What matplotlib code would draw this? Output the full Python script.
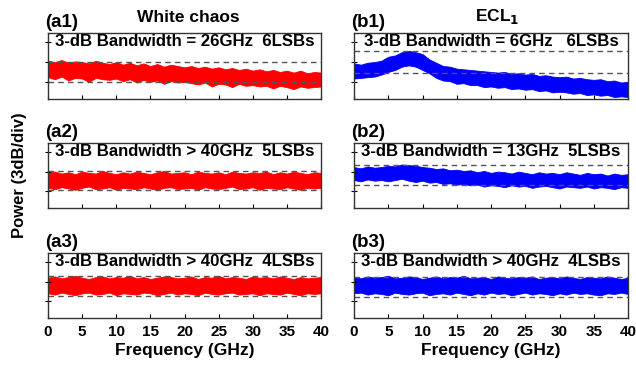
import numpy as np
import matplotlib
matplotlib.use('Agg')
import matplotlib.pyplot as plt

plt.rcParams['font.family'] = ['Liberation Sans', 'DejaVu Sans']
plt.rcParams['font.weight'] = 'bold'

freq = np.arange(0, 41)  # GHz

# upper / lower edges of the noisy spectra (dB)
a1_up = [5.8, 5.6, 5.9, 5.5, 5.7, 5.6, 5.4, 5.8, 5.5, 5.3, 5.6,
         5.2, 5.5, 5.1, 5.4, 5.0, 5.3, 4.9, 5.2, 5.0, 4.8,
         5.0, 4.7, 4.9, 4.6, 4.8, 4.5, 4.7, 4.4, 4.6, 4.3,
         4.5, 4.2, 4.4, 4.1, 4.3, 4.0, 4.3, 3.9, 4.1, 4.0]
a1_lo = [3.3, 3.0, 3.4, 2.8, 3.2, 3.1, 2.6, 3.2, 3.0, 2.9, 3.1,
         2.7, 3.0, 2.5, 2.9, 2.6, 2.8, 2.3, 2.7, 2.5, 2.6,
         2.4, 2.2, 2.5, 1.9, 2.3, 2.2, 1.8, 2.3, 2.0, 2.1,
         1.9, 2.0, 1.6, 2.0, 1.8, 1.5, 1.9, 1.7, 1.8, 1.9]
a2_up = [5.4, 5.6, 5.3, 5.5, 5.2, 5.6, 5.4, 5.3, 5.7, 5.4, 5.2, 5.5, 5.3, 5.6,
         5.4, 5.2, 5.5, 5.7, 5.3, 5.4, 5.5, 5.2, 5.6, 5.4, 5.3, 5.5, 5.2, 5.6,
         5.4, 5.3, 5.5, 5.4, 5.6, 5.2, 5.5, 5.3, 5.6, 5.4, 5.2, 5.5, 5.4]
a2_lo = [3.1, 2.9, 3.2, 3.0, 2.8, 3.1, 3.3, 2.9, 3.0, 3.2, 2.8, 3.1, 3.0, 2.9,
         3.2, 3.0, 2.8, 3.1, 3.2, 2.9, 3.0, 3.1, 2.8, 3.2, 3.0, 2.9, 3.1, 3.3,
         2.9, 3.0, 3.2, 2.8, 3.1, 3.0, 2.9, 3.2, 3.0, 2.8, 3.1, 3.0, 3.1]
a3_up = [6.2, 6.4, 6.1, 6.3, 6.5, 6.2, 6.0, 6.3, 6.4, 6.1, 6.3, 6.2, 6.5, 6.1,
         6.3, 6.0, 6.2, 6.4, 6.3, 6.1, 6.2, 6.4, 6.0, 6.3, 6.2, 6.5, 6.1, 6.3,
         6.2, 6.0, 6.4, 6.2, 6.3, 6.1, 6.4, 6.2, 6.0, 6.3, 6.1, 6.2, 6.3]
a3_lo = [3.8, 3.6, 3.9, 3.7, 3.5, 3.8, 3.9, 3.6, 3.7, 3.9, 3.5, 3.8, 3.7, 3.6,
         3.9, 3.8, 3.5, 3.7, 3.9, 3.6, 3.8, 3.7, 3.5, 3.9, 3.7, 3.6, 3.8, 3.9,
         3.6, 3.7, 3.8, 3.5, 3.8, 3.7, 3.6, 3.9, 3.7, 3.5, 3.8, 3.7, 3.8]
b1_up = [5.4, 5.2, 5.5, 5.6, 5.8, 6.4, 6.6, 7.1, 7.3, 7.1, 6.8, 6.0, 5.5, 5.0,
         4.9, 4.6, 4.5, 4.4, 4.3, 4.2, 4.1, 4.0, 4.1, 3.8, 3.9, 3.7, 3.8, 3.5,
         3.6, 3.4, 3.3, 3.4, 3.1, 3.2, 3.0, 2.9, 3.0, 2.7, 2.8, 2.5, 2.6]
b1_lo = [3.1, 3.2, 3.3, 3.4, 3.7, 4.1, 4.4, 4.9, 5.1, 4.9, 4.4, 3.9, 3.2, 2.8,
         2.7, 2.3, 2.4, 2.1, 2.1, 1.8, 1.9, 1.7, 1.8, 1.5, 1.6, 1.4, 1.5, 1.2,
         1.3, 1.0, 1.1, 1.0, 0.8, 0.9, 0.6, 0.7, 0.5, 0.6, 0.3, 0.4, 0.3]
b2_up = [6.3, 6.1, 6.4, 6.2, 6.3, 6.5, 6.4, 6.7, 6.6, 6.5, 6.3, 6.2, 6.0, 6.1,
         5.8, 5.9, 5.7, 5.8, 5.5, 5.7, 5.4, 5.6, 5.5, 5.3, 5.6, 5.4, 5.2, 5.5,
         5.3, 5.4, 5.2, 5.5, 5.3, 5.1, 5.4, 5.2, 5.3, 5.0, 5.3, 5.1, 5.2]
b2_lo = [4.3, 4.1, 4.4, 4.2, 4.3, 4.1, 4.3, 4.5, 4.2, 4.0, 4.2, 3.9, 4.0, 3.7,
         3.8, 3.6, 3.7, 3.5, 3.6, 3.3, 3.5, 3.4, 3.2, 3.5, 3.3, 3.4, 3.1, 3.3,
         3.4, 3.2, 3.0, 3.3, 3.2, 3.1, 3.3, 3.0, 3.2, 3.1, 2.9, 3.2, 3.1]
b3_up = [6.3, 6.1, 6.4, 6.2, 6.3, 6.5, 6.1, 6.2, 6.4, 6.3, 6.0, 6.2, 6.4, 6.1,
         6.3, 6.2, 6.5, 6.1, 6.2, 6.3, 6.0, 6.4, 6.2, 6.1, 6.3, 6.2, 6.4, 6.0,
         6.2, 6.3, 6.1, 6.4, 6.2, 6.0, 6.3, 6.2, 6.1, 6.4, 6.2, 6.0, 6.2]
b3_lo = [3.8, 3.9, 3.6, 3.8, 3.7, 3.5, 3.9, 3.7, 3.6, 3.8, 3.9, 3.5, 3.7, 3.8,
         3.6, 3.9, 3.7, 3.5, 3.8, 3.6, 3.9, 3.7, 3.8, 3.5, 3.7, 3.9, 3.6, 3.8,
         3.7, 3.5, 3.8, 3.6, 3.9, 3.7, 3.8, 3.6, 3.5, 3.8, 3.7, 3.9, 3.7]

# 3-dB reference lines for each panel
a1_dash = [5.6, 2.6]
a2_dash = [5.7, 2.8]
a3_dash = [6.5, 3.4]
b1_dash = [7.2, 4.0]
b2_dash = [6.6, 3.5]
b3_dash = [6.3, 3.2]

labels = ['(a1)', '(a2)', '(a3)', '(b1)', '(b2)', '(b3)']
notes = ['3-dB Bandwidth = 26GHz  6LSBs',
         '3-dB Bandwidth > 40GHz  5LSBs',
         '3-dB Bandwidth > 40GHz  4LSBs',
         '3-dB Bandwidth = 6GHz   6LSBs',
         '3-dB Bandwidth = 13GHz  5LSBs',
         '3-dB Bandwidth > 40GHz  4LSBs']
ups = [a1_up, a2_up, a3_up, b1_up, b2_up, b3_up]
los = [a1_lo, a2_lo, a3_lo, b1_lo, b2_lo, b3_lo]
dashes = [a1_dash, a2_dash, a3_dash, b1_dash, b2_dash, b3_dash]
xticks = [0, 5, 10, 15, 20, 25, 30, 35, 40]

W, H = 636, 370
fig = plt.figure(figsize=(W / 100, H / 100), dpi=100)

cols = [(48, 321), (354, 628)]
rows = [(33, 99), (143, 208), (253, 318)]
colors = ['#ff0000', '#0000ff']

for i in range(6):
    c, r = i // 3, i % 3
    x0, x1 = cols[c]
    y0, y1 = rows[r]
    ax = fig.add_axes([x0 / W, 1 - y1 / H, (x1 - x0) / W, (y1 - y0) / H])
    ax.fill_between(freq, los[i], ups[i], color=colors[c], lw=0.6,
                    edgecolor=colors[c])
    for d in dashes[i]:
        ax.axhline(d, color='#555555', ls=(0, (4, 3)), lw=1.0)
    ax.set_xlim(0, 40)
    ax.set_ylim(0, 10)
    ax.set_yticks([2.6, 5.6, 8.6])
    ax.set_yticklabels([])
    ax.set_xticks(xticks)
    ax.tick_params(axis='x', direction='in', length=3, top=False)
    ax.tick_params(axis='y', direction='inout', length=5)
    for s in ax.spines.values():
        s.set_linewidth(1.0)
        s.set_color('#333333')
    if r == 2:
        ax.set_xticklabels([str(t) for t in xticks], fontsize=11, fontweight='bold')
        ax.tick_params(axis='x', pad=5)
        ax.set_xlabel('Frequency (GHz)', fontsize=12.5, fontweight='bold', labelpad=3)
    else:
        ax.set_xticklabels([])
    ax.text(0.5, 0.98, notes[i], transform=ax.transAxes, ha='center', va='top',
            fontsize=12.1, fontweight='bold')
    ax.text(-0.01, 1.03, labels[i], transform=ax.transAxes, ha='left', va='bottom',
            fontsize=13.5, fontweight='bold')

fig.text(188 / W, 1 - 17 / H, 'White chaos', ha='center', va='center',
         fontsize=12.5, fontweight='bold')
fig.text(497 / W, 1 - 17 / H, r'ECL$_\mathbf{1}$', ha='center', va='center',
         fontsize=12.5, fontweight='bold')
fig.text(20 / W, 1 - 175 / H, 'Power (3dB/div)', ha='center', va='center',
         rotation=90, fontsize=12, fontweight='bold')

fig.savefig('out.png', dpi=100)
